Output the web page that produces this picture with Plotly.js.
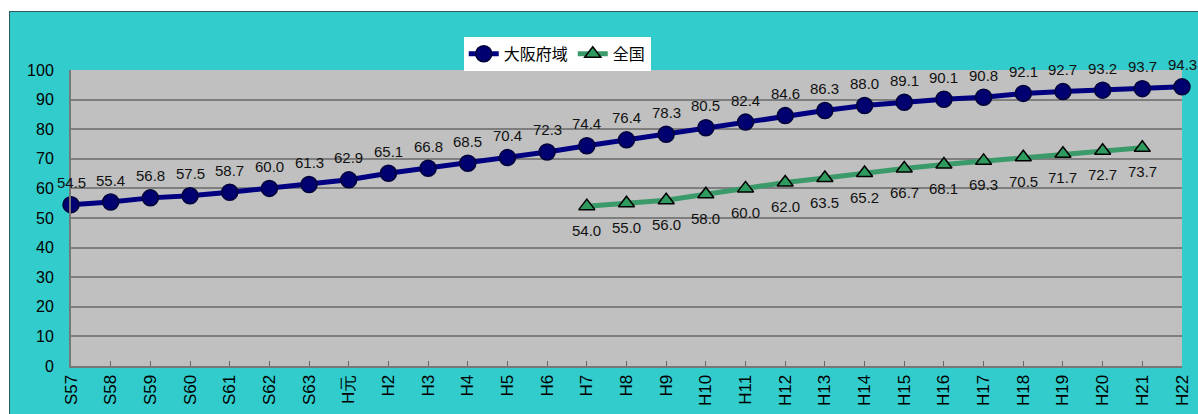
<!DOCTYPE html>
<html><head><meta charset="utf-8">
<script src="https://cdn.plot.ly/plotly-3.0.1.min.js"></script>
<style>
html,body{margin:0;padding:0;background:#fff;width:1198px;height:414px;overflow:hidden;}
#chart{position:absolute;left:9px;top:11px;width:1189px;height:403px;border-top:1px solid #2a5a5a;border-left:1px solid #2a5a5a;box-sizing:border-box;}
</style></head><body>
<div id="chart"></div>
<script>
const categories = ["S57","S58","S59","S60","S61","S62","S63","H元","H2","H3","H4","H5","H6","H7","H8","H9","H10","H11","H12","H13","H14","H15","H16","H17","H18","H19","H20","H21","H22"];
const osakaValues = [54.5,55.4,56.8,57.5,58.7,60.0,61.3,62.9,65.1,66.8,68.5,70.4,72.3,74.4,76.4,78.3,80.5,82.4,84.6,86.3,88.0,89.1,90.1,90.8,92.1,92.7,93.2,93.7,94.3];
const nationalCategories = ["H7","H8","H9","H10","H11","H12","H13","H14","H15","H16","H17","H18","H19","H20","H21"];
const nationalValues = [54.0,55.0,56.0,58.0,60.0,62.0,63.5,65.2,66.7,68.1,69.3,70.5,71.7,72.7,73.7];
const yTicks = [0,10,20,30,40,50,60,70,80,90,100];

const labelFont = {family:"Liberation Sans, Arial, sans-serif", size:15, color:"#111"};
const traces = [
  {
    x: nationalCategories, y: nationalValues, name: "全国", type: "scatter", mode: "lines+markers",
    line: {color:"#3a9a6a", width:5},
    marker: {symbol:"triangle-up", size:14, color:"#2e9a5e", line:{color:"#000", width:1.5}},
    cliponaxis: false
  },
  {
    x: categories, y: osakaValues, name: "大阪府域", type: "scatter", mode: "lines+markers",
    line: {color:"#000080", width:5},
    marker: {symbol:"circle", size:16, color:"#000070", line:{color:"#00003a", width:1.5}},
    cliponaxis: false
  }
];

const annotations = [];
categories.forEach((c, i) => annotations.push({
  x: c, y: osakaValues[i], xref: "x", yref: "y", text: osakaValues[i].toFixed(1),
  showarrow: false, yshift: 22, font: labelFont
}));
nationalCategories.forEach((c, i) => annotations.push({
  x: c, y: nationalValues[i], xref: "x", yref: "y", text: nationalValues[i].toFixed(1),
  showarrow: false, yshift: -24, font: labelFont
}));

const layout = {
  width: 1189, height: 403,
  paper_bgcolor: "#33cccc", plot_bgcolor: "#c0c0c0",
  margin: {l:61, r:17, t:58, b:49},
  showlegend: true,
  annotations: annotations,
  legend: {
    orientation: "h", x: 0.3535, xanchor: "left", y: 1.112, yanchor: "top",
    bgcolor: "#ffffff", bordercolor: "#ffffff", borderwidth: 0,
    font: {family:"Noto Sans CJK JP, sans-serif", size:16, color:"#000"},
    traceorder: "reversed", itemwidth: 30, tracegroupgap: 0
  },
  xaxis: {
    type: "category", categoryorder: "array", categoryarray: categories,
    range: [0, 28], tickangle: -90,
    tickfont: {family:"Liberation Sans, Arial, sans-serif", size:17, color:"#000"},
    ticks: "inside", ticklen: 5, tickcolor: "#666", showgrid: false,
    showline: true, linecolor: "#777", linewidth: 2, mirror: false, fixedrange: true
  },
  yaxis: {
    range: [0, 100], tickvals: yTicks, ticktext: yTicks.map(String),
    tickfont: {family:"Liberation Sans, Arial, sans-serif", size:16, color:"#000"},
    showgrid: true, gridcolor: "#7e7e7e", gridwidth: 2,
    showline: true, linecolor: "#777", linewidth: 2, zeroline: false,
    ticks: "", ticklabelstandoff: 12, fixedrange: true
  }
};

Plotly.newPlot("chart", traces, layout, {displayModeBar:false, staticPlot:true});
</script>
</body></html>
